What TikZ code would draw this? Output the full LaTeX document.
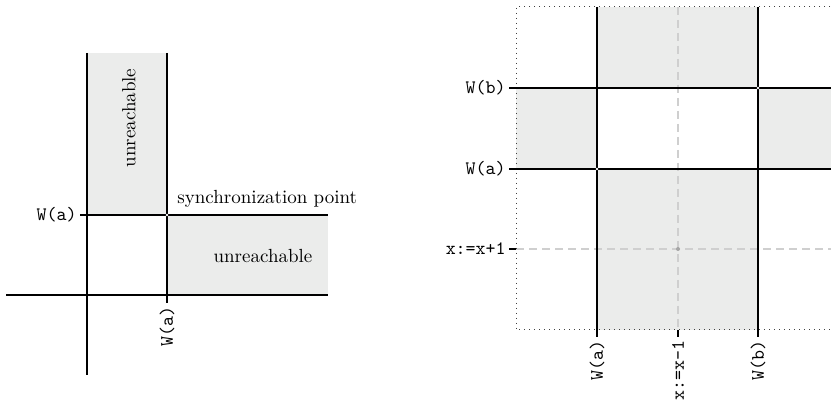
\documentclass[tikz,border=0pt]{standalone}
\usepackage{tikz}
\usetikzlibrary{calc}
\definecolor{regiongray}{HTML}{EBECEB}
\definecolor{guidegray}{HTML}{CFCFCF}

\begin{document}
\begin{tikzpicture}[
    x=0.5pt, y=-0.5pt,
    axis/.style={line width=0.9pt},
    region/.style={fill=regiongray},
    guide/.style={guidegray, line width=0.6pt, dash pattern=on 4pt off 2.5pt},
    frame/.style={dotted, line width=0.5pt, black!75},
    lbl/.style={font=\ttfamily\fontsize{9.5}{11}\selectfont, inner sep=1.5pt},
    txt/.style={font=\fontsize{9.5}{11}\selectfont, inner sep=0pt},
    gap/.style={fill=white, draw=none},
  ]
  \useasboundingbox (0,0) rectangle (831,406);

  % left: a single synchronization point
  \coordinate (o)    at (87,295);
  \coordinate (sync) at (167,215);
  \coordinate (ytop) at (87,53);
  \coordinate (ybot) at (87,375);
  \coordinate (xl)   at (6,295);
  \coordinate (xr)   at (328,295);
  \coordinate (wat)  at (80,215);
  \coordinate (war)  at (328,215);
  \coordinate (wbt)  at (167,53);
  \coordinate (wbb)  at (167,303);

  \fill[region] (ytop) rectangle (sync);
  \fill[region] (sync) rectangle (xr);
  \draw[axis] (xl) -- (xr);
  \draw[axis] (ytop) -- (ybot);
  \draw[axis] (wat) -- (war);
  \draw[axis] (wbt) -- (wbb);
  \fill[gap] (sync) circle (1.3);

  \node[lbl, anchor=east] (wa1) at (wat) {W(a)};
  \node[lbl, anchor=east, rotate=90] (wa2) at (wbb) {W(a)};
  \node[txt, anchor=west] (sp) at (177,199) {synchronization point};
  \node[txt, rotate=90] (ur1) at (129,118) {unreachable};
  \node[txt] (ur2) at (263,256) {unreachable};

  % right: two writes around x:=x+1 / x:=x-1
  \coordinate (a) at (597,169);
  \coordinate (b) at (758,88);
  \coordinate (c) at (678,249);

  \fill[region] (597,7) rectangle (b);
  \fill[region] (516,88) rectangle (a);
  \fill[region] (b) rectangle (840,169);
  \fill[region] (a) rectangle (758,330);

  \draw[guide] (678,7) -- (678,330);
  \draw[guide] (516,249) -- (840,249);
  \draw[frame] (840,7) -- (516,7) -- (516,330) -- (840,330);

  \draw[axis] (678,330) -- (678,337);
  \draw[axis] (509,249) -- (516,249);
  \draw[axis] (509,88) -- (840,88);
  \draw[axis] (509,169) -- (840,169);
  \draw[axis] (597,7) -- (597,337);
  \draw[axis] (758,7) -- (758,337);
  \fill[gap] (a) circle (1.3);
  \fill[gap] (b) circle (1.3);
  \fill[black!35] (c) circle (2);

  \node[lbl, anchor=east] (wb3) at (509,88) {W(b)};
  \node[lbl, anchor=east] (wa3) at (509,169) {W(a)};
  \node[lbl, anchor=east] (inc) at (509,249) {x:=x+1};
  \node[lbl, anchor=east, rotate=90] (wa4) at (597,337) {W(a)};
  \node[lbl, anchor=east, rotate=90] (dec) at (678,337) {x:=x-1};
  \node[lbl, anchor=east, rotate=90] (wb4) at (758,337) {W(b)};
\end{tikzpicture}
\end{document}
